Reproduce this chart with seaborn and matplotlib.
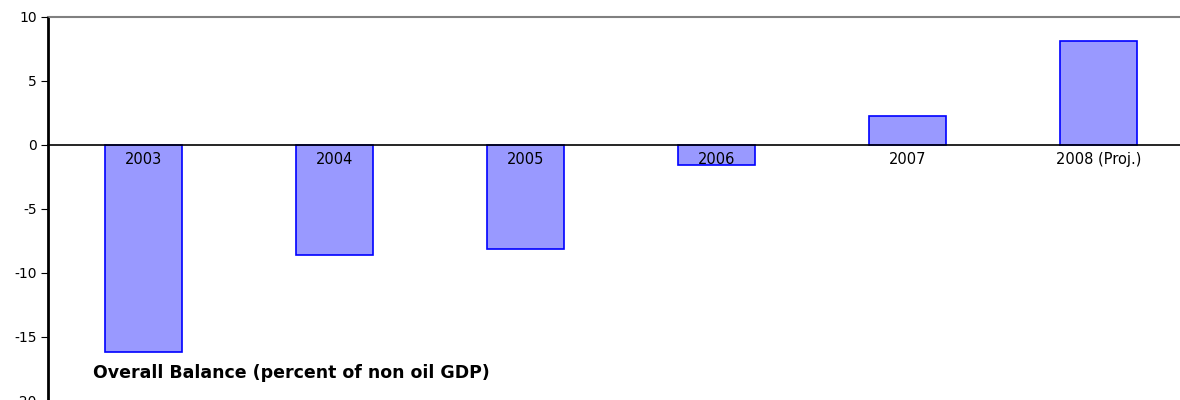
import numpy as np
import seaborn as sns
import matplotlib.pyplot as plt
import pandas as pd

years = ["2003", "2004", "2005", "2006", "2007", "2008 (Proj.)"]
balance = [-16.2, -8.6, -8.1, -1.6, 2.3, 8.1]
yticks = [-20, -15, -10, -5, 0, 5, 10]

sns.set_style("white")
plt.rcParams['font.family'] = ['DejaVu Sans']
plt.rcParams['axes.unicode_minus'] = False
plt.rcParams['text.color'] = 'black'
plt.rcParams['xtick.labelcolor'] = 'black'
plt.rcParams['ytick.labelcolor'] = 'black'

df = pd.DataFrame({"year": years, "balance": balance})

fig = plt.figure(figsize=(11.8, 4), dpi=100)
ax = fig.add_axes([48 / 1180, -1 / 400, 1146 / 1180, 384 / 400])
sns.barplot(data=df, x="year", y="balance", width=0.4, color="#9999FF",
            edgecolor="#0000FF", linewidth=1.2, saturation=1, ax=ax)
for p in ax.patches:
    p.set_zorder(1)
ax.set_axisbelow(False)

ax.set_xlim(-0.5, 5.5)
ax.set_ylim(-20, 10)
ax.set_yticks(yticks)
ax.set_xlabel("")
ax.set_ylabel("")

# x axis sits on zero, labels hang just below it
ax.spines["bottom"].set_position(("data", 0))
ax.spines["bottom"].set_color("black")
ax.spines["bottom"].set_linewidth(1.2)
ax.spines["left"].set_color("black")
ax.spines["left"].set_linewidth(2)
ax.spines["top"].set_color("#808080")
ax.spines["top"].set_linewidth(1.5)
ax.spines["right"].set_visible(False)

ax.tick_params(axis="x", which="major", length=0, pad=5, labelsize=10.5,
               labelcolor="black")
ax.set_xticks(np.arange(0.5, 5.5, 1), minor=True)
ax.tick_params(axis="x", which="minor", length=3, direction="out", color="black")
ax.tick_params(axis="y", length=5, direction="out", left=True, color="black",
               pad=3, labelsize=10, labelcolor="black")

fig.text(93 / 1180, 1 - 373 / 400, "Overall Balance (percent of non oil GDP)",
         fontsize=12.5, fontweight="bold", ha="left", va="center", color="black")

plt.savefig("out.png", dpi=100)
